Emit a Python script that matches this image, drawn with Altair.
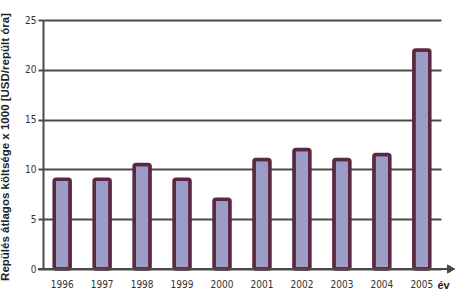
import altair as alt
import pandas as pd

years = ["1996", "1997", "1998", "1999", "2000", "2001", "2002", "2003", "2004", "2005"]
costs = [9, 9, 10.5, 9, 7, 11, 12, 11, 11.5, 22]
y_ticks = [0, 5, 10, 15, 20, 25]

df = pd.DataFrame({"ev": years, "koltseg": costs})

W, H = 398, 249
FONT = "DejaVu Sans Condensed, Liberation Sans, sans-serif"

base = alt.Chart(df)

bars = base.mark_bar(
    fill="#9d9cc6", stroke="#5a2842", strokeWidth=3.5, cornerRadius=2
).encode(
    x=alt.X("ev:N",
            scale=alt.Scale(paddingInner=0.6, paddingOuter=0.28),
            axis=alt.Axis(title="év", titleFont="Liberation Sans", titleFontSize=11,
                          titleFontWeight="bold", titleColor="#222",
                          titleX=W - 4, titleY=16, titleAlign="left",
                          titleBaseline="middle", titleAngle=0,
                          labelAngle=0, labelFont=FONT, labelFontSize=10,
                          labelColor="#333", labelPadding=10, tickSize=0,
                          domain=False, grid=False)),
    y=alt.Y("koltseg:Q",
            scale=alt.Scale(domain=[0, 25], nice=False),
            axis=alt.Axis(values=y_ticks, title="Repülés átlagos költsége x 1000 [USD/repült óra]",
                          titleFont="Liberation Sans", titleFontSize=11.5,
                          titleFontWeight="bold", titleColor="#222",
                          titleX=-33, titleY=H / 2 + 2, titleAngle=-90,
                          labelFont=FONT, labelFontSize=10, labelColor="#333",
                          labelPadding=2, tickSize=5, tickColor="#4a4a4a", tickWidth=2,
                          domainColor="#4a4a4a", domainWidth=2,
                          grid=True, gridColor="#4a4a4a", gridWidth=2, gridOpacity=1)),
)

xaxis_line = base.mark_rule(color="#4a4a4a", strokeWidth=2).encode(
    x=alt.value(-5), x2=alt.value(W + 8), y=alt.value(H)
)
arrow = base.mark_point(shape="triangle-right", filled=True, color="#4a4a4a",
                        size=70, opacity=1).encode(
    x=alt.value(W + 10), y=alt.value(H)
)

chart = alt.layer(bars, xaxis_line, arrow).properties(
    width=W, height=H,
    padding={"left": 43, "top": 20, "right": 20, "bottom": 29},
    autosize=alt.AutoSizeParams(type="none"),
    background="white",
).configure_view(stroke=None)

chart.save("out.html", embed_options={"renderer": "svg", "actions": False})
